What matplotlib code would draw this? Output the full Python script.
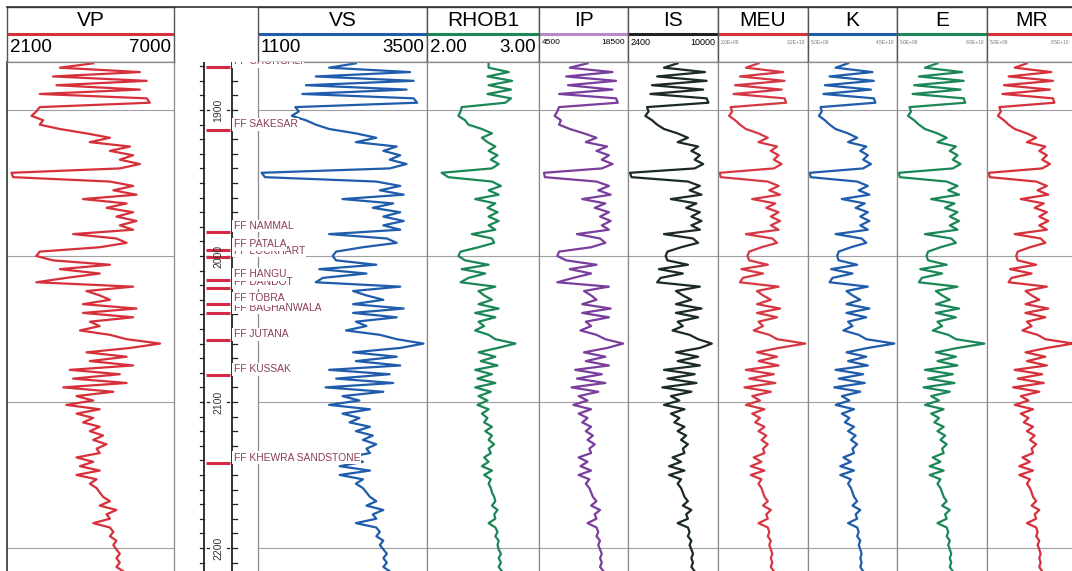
import matplotlib.pyplot as plt
import numpy as np

plt.rcParams['font.family'] = ['Liberation Sans', 'DejaVu Sans']

# log samples, metres (3 m step)
DEPTH = np.arange(1868, 2217, 3)

VP = [4630, 3650, 6000, 3450, 6200, 3550, 6000, 3060, 6200, 6290,
      3060, 2960, 2820, 3160, 3060, 3650, 4430, 5120, 4530, 5710,
      5120, 5800, 5410, 6000, 5410, 2230, 2280, 5120, 5800, 5220,
      5900, 4330, 5610, 5020, 5800, 5310, 5900, 5410, 5800, 4040,
      5310, 5610, 4820, 3060, 2960, 3450, 5120, 3650, 4820, 3840,
      2960, 5800, 4430, 4820, 5120, 4330, 5900, 4330, 5800, 4530,
      4820, 4240, 5120, 5610, 6590, 5710, 4430, 5610, 4530, 5800,
      3940, 5410, 4040, 5610, 3750, 5220, 4140, 4630, 3840, 4820,
      4140, 4630, 4330, 4820, 4530, 4920, 4630, 5020, 4730, 4820,
      4140, 4630, 4240, 4820, 4140, 4730, 4530, 4730, 4820, 4920,
      5120, 4820, 5310, 5020, 5120, 4630, 5120, 5220, 5120, 5310,
      5220, 5310, 5410, 5310, 5410, 5310, 5510]

VS = [2490, 2110, 3260, 1920, 3310, 1780, 3210, 1730, 3310, 3360,
      1630, 1680, 1580, 1780, 1920, 2110, 2490, 2780, 2490, 3070,
      2880, 3120, 2970, 3210, 2970, 1150, 1200, 2780, 3120, 2830,
      3170, 2300, 3020, 2730, 3120, 2880, 3170, 2880, 3120, 2110,
      2930, 3070, 2590, 2210, 2160, 2210, 2780, 1970, 2640, 2020,
      1920, 3120, 2450, 2640, 2880, 2450, 3170, 2450, 3070, 2490,
      2640, 2350, 2830, 3070, 3450, 3120, 2450, 3070, 2490, 3120,
      2110, 2970, 2210, 3020, 2060, 2880, 2300, 2540, 2110, 2690,
      2300, 2540, 2400, 2690, 2490, 2730, 2590, 2780, 2640, 2690,
      2350, 2590, 2260, 2690, 2260, 2590, 2490, 2590, 2640, 2690,
      2780, 2640, 2880, 2730, 2780, 2490, 2780, 2830, 2780, 2880,
      2830, 2880, 2930, 2880, 2930, 2880, 2970]

RHOB1 = [2.55, 2.55, 2.73, 2.54, 2.76, 2.55, 2.75, 2.54, 2.75, 2.70,
         2.31, 2.30, 2.28, 2.34, 2.37, 2.49, 2.58, 2.49, 2.54, 2.61,
         2.55, 2.63, 2.57, 2.64, 2.58, 2.13, 2.19, 2.58, 2.66, 2.55,
         2.64, 2.43, 2.61, 2.54, 2.63, 2.55, 2.64, 2.55, 2.61, 2.40,
         2.58, 2.60, 2.46, 2.30, 2.28, 2.34, 2.55, 2.31, 2.52, 2.37,
         2.30, 2.61, 2.46, 2.51, 2.58, 2.46, 2.64, 2.43, 2.61, 2.46,
         2.51, 2.43, 2.55, 2.61, 2.79, 2.63, 2.46, 2.61, 2.48, 2.63,
         2.43, 2.58, 2.45, 2.61, 2.43, 2.57, 2.46, 2.54, 2.45, 2.55,
         2.49, 2.54, 2.51, 2.58, 2.52, 2.58, 2.55, 2.60, 2.55, 2.57,
         2.51, 2.55, 2.49, 2.58, 2.51, 2.57, 2.55, 2.57, 2.58, 2.60,
         2.61, 2.58, 2.63, 2.60, 2.61, 2.55, 2.61, 2.63, 2.61, 2.64,
         2.63, 2.64, 2.66, 2.64, 2.66, 2.64, 2.67]

IP = [12140, 9340, 16060, 8780, 16620, 9060, 16060, 7660, 16620, 16900,
      7660, 7380, 6960, 7940, 7660, 9340, 11580, 13540, 11860, 15220,
      13540, 15500, 14380, 16060, 14380, 5280, 5420, 13540, 15500, 13820,
      15780, 11300, 14940, 13260, 15500, 14100, 15780, 14380, 15500, 10460,
      14100, 14940, 12700, 7660, 7380, 8780, 13540, 9340, 12700, 9900,
      7380, 15500, 11580, 12700, 13540, 11300, 15780, 11300, 15500, 11860,
      12700, 11020, 13540, 14940, 17740, 15220, 11580, 14940, 11860, 15500,
      10180, 14380, 10460, 14940, 9620, 13820, 10740, 12140, 9900, 12700,
      10740, 12140, 11300, 12700, 11860, 12980, 12140, 13260, 12420, 12700,
      10740, 12140, 11020, 12700, 10740, 12420, 11860, 12420, 12700, 12980,
      13540, 12700, 14100, 13260, 13540, 12140, 13540, 13820, 13540, 14100,
      13820, 14100, 14380, 14100, 14380, 14100, 14660]

IS = [6590, 5440, 8900, 4860, 9040, 4430, 8750, 4290, 9040, 9190,
      4000, 4140, 3860, 4430, 4860, 5440, 6590, 7460, 6590, 8320,
      7750, 8470, 8030, 8750, 8030, 2560, 2700, 7460, 8470, 7600,
      8610, 6020, 8180, 7310, 8470, 7750, 8610, 7750, 8470, 5440,
      7890, 8320, 6880, 5730, 5580, 5730, 7460, 5010, 7030, 5150,
      4860, 8470, 6450, 7030, 7750, 6450, 8610, 6450, 8320, 6590,
      7030, 6160, 7600, 8320, 9480, 8470, 6450, 8320, 6590, 8470,
      5440, 8030, 5730, 8180, 5300, 7750, 6020, 6740, 5440, 7170,
      6020, 6740, 6310, 7170, 6590, 7310, 6880, 7460, 7030, 7170,
      6160, 6880, 5870, 7170, 5870, 6880, 6590, 6880, 7030, 7170,
      7460, 7030, 7750, 7310, 7460, 6590, 7460, 7600, 7460, 7750,
      7600, 7750, 7890, 7750, 7890, 7750, 8030]

# moduli in GPa
MEU = [15.5, 11.3, 23.7, 9.3, 24.2, 7.7, 23.2, 7.2, 24.2, 24.7,
       6.2, 6.7, 5.7, 7.7, 9.3, 11.3, 15.5, 18.6, 15.5, 21.7,
       19.6, 22.2, 20.6, 23.2, 20.6, 2.6, 2.9, 18.6, 22.2, 19.1,
       22.7, 13.4, 21.1, 18.1, 22.2, 19.6, 22.7, 19.6, 22.2, 11.3,
       20.1, 21.7, 16.5, 12.4, 11.8, 12.4, 18.6, 9.8, 17.0, 10.3,
       9.3, 22.2, 15.0, 17.0, 19.6, 15.0, 22.7, 15.0, 21.7, 15.5,
       17.0, 13.9, 19.1, 21.7, 31.1, 22.2, 15.0, 21.7, 15.5, 22.2,
       11.3, 20.6, 12.4, 21.1, 10.8, 19.6, 13.4, 16.0, 11.3, 17.5,
       13.4, 16.0, 14.4, 17.5, 15.5, 18.1, 16.5, 18.6, 17.0, 17.5,
       13.9, 16.5, 12.9, 17.5, 12.9, 16.5, 15.5, 16.5, 17.0, 17.5,
       18.6, 17.0, 19.6, 18.1, 18.6, 15.5, 18.6, 19.1, 18.6, 19.6,
       19.1, 19.6, 20.1, 19.6, 20.1, 19.6, 20.6]

K = [23.0, 17.4, 34.0, 14.7, 34.6, 12.6, 33.3, 11.9, 34.6, 35.3,
     10.6, 11.2, 9.9, 12.6, 14.7, 17.4, 23.0, 27.1, 23.0, 31.2,
     28.5, 31.9, 29.8, 33.3, 29.8, 5.8, 6.2, 27.1, 31.9, 27.8,
     32.6, 20.2, 30.5, 26.4, 31.9, 28.5, 32.6, 28.5, 31.9, 17.4,
     29.1, 31.2, 24.3, 18.8, 18.1, 18.8, 27.1, 15.4, 25.0, 16.0,
     14.7, 31.9, 22.3, 25.0, 28.5, 22.3, 32.6, 22.3, 31.2, 23.0,
     25.0, 20.9, 27.8, 31.2, 43.8, 31.9, 22.3, 31.2, 23.0, 31.9,
     17.4, 29.8, 18.8, 30.5, 16.8, 28.5, 20.2, 23.6, 17.4, 25.7,
     20.2, 23.6, 21.6, 25.7, 23.0, 26.4, 24.3, 27.1, 25.0, 25.7,
     20.9, 24.3, 19.5, 25.7, 19.5, 24.3, 23.0, 24.3, 25.0, 25.7,
     27.1, 25.0, 28.5, 26.4, 27.1, 23.0, 27.1, 27.8, 27.1, 28.5,
     27.8, 28.5, 29.1, 28.5, 29.1, 28.5, 29.8]

E = [38.7, 28.3, 59.3, 23.2, 60.6, 19.3, 58.0, 18.0, 60.6, 61.9,
     15.4, 16.7, 14.2, 19.3, 23.2, 28.3, 38.7, 46.4, 38.7, 54.1,
     49.0, 55.4, 51.5, 58.0, 51.5, 6.5, 7.3, 46.4, 55.4, 47.7,
     56.7, 33.5, 52.9, 45.1, 55.4, 49.0, 56.7, 49.0, 55.4, 28.3,
     50.2, 54.1, 41.2, 30.9, 29.6, 30.9, 46.4, 24.4, 42.6, 25.7,
     23.2, 55.4, 37.4, 42.6, 49.0, 37.4, 56.7, 37.4, 54.1, 38.7,
     42.6, 34.8, 47.7, 54.1, 77.8, 55.4, 37.4, 54.1, 38.7, 55.4,
     28.3, 51.5, 30.9, 52.9, 27.1, 49.0, 33.5, 40.0, 28.3, 43.9,
     33.5, 40.0, 36.1, 43.9, 38.7, 45.1, 41.2, 46.4, 42.6, 43.9,
     34.8, 41.2, 32.2, 43.9, 32.2, 41.2, 38.7, 41.2, 42.6, 43.9,
     46.4, 42.6, 49.0, 45.1, 46.4, 38.7, 46.4, 47.7, 46.4, 49.0,
     47.7, 49.0, 50.2, 49.0, 50.2, 49.0, 51.5]

MR = [40.9, 29.9, 62.9, 24.4, 64.3, 20.2, 61.6, 18.8, 64.3, 65.6,
      16.1, 17.5, 14.8, 20.2, 24.4, 29.9, 40.9, 49.2, 40.9, 57.4,
      52.0, 58.8, 54.6, 61.6, 54.6, 6.6, 7.4, 49.2, 58.8, 50.5,
      60.1, 35.4, 56.0, 47.8, 58.8, 52.0, 60.1, 52.0, 58.8, 29.9,
      53.2, 57.4, 43.6, 32.6, 31.2, 32.6, 49.2, 25.7, 45.1, 27.1,
      24.4, 58.8, 39.6, 45.1, 52.0, 39.6, 60.1, 39.6, 57.4, 40.9,
      45.1, 36.8, 50.5, 57.4, 82.6, 58.8, 39.6, 57.4, 40.9, 58.8,
      29.9, 54.6, 32.6, 56.0, 28.5, 52.0, 35.4, 42.3, 29.9, 46.4,
      35.4, 42.3, 38.1, 46.4, 40.9, 47.8, 43.6, 49.2, 45.1, 46.4,
      36.8, 43.6, 34.0, 46.4, 34.0, 43.6, 40.9, 43.6, 45.1, 46.4,
      49.2, 45.1, 52.0, 47.8, 49.2, 40.9, 49.2, 50.5, 49.2, 52.0,
      50.5, 52.0, 53.2, 52.0, 53.2, 52.0, 54.6]

FORMATIONS = ['CHORGALI', 'SAKESAR', 'NAMMAL', 'PATALA', 'LOCKHART', 'HANGU',
              'DANDOT', 'TOBRA', 'BAGHANWALA', 'JUTANA', 'KUSSAK', 'KHEWRA SANDSTONE']
FORMATION_TOPS = [1870.5, 1913.7, 1983.3, 1995.9, 2000.4, 2016.4,
                  2021.9, 2032.9, 2039.3, 2057.5, 2081.5, 2142.0]

DEPTH_LABELS = [1900, 2000, 2100, 2200]

# name, values, scale min/max, scale text, colour
CURVES = [
    ('VP', VP, 2100, 7000, ('2100', '7000'), '#d6303b'),
    ('VS', VS, 1100, 3500, ('1100', '3500'), '#1f5cab'),
    ('RHOB1', RHOB1, 2.0, 3.0, ('2.00', '3.00'), '#1b8757'),
    ('IP', IP, 4500, 18500, ('4500', '18500'), '#7a3e9d'),
    ('IS', IS, 2400, 10000, ('2400', '10000'), '#1b2a25'),
    ('MEU', MEU, 2, 32, ('2.0E+09', '3.2E+10'), '#d63843'),
    ('K', K, 5, 45, ('5.0E+09', '4.5E+10'), '#1f5cab'),
    ('E', E, 5, 80, ('5.0E+09', '8.0E+10'), '#1b8757'),
    ('MR', MR, 5, 85, ('5.0E+09', '8.5E+10'), '#d6303b'),
]
# pixel columns of each track and size of its scale text
TRACK_X = [(7, 174), (258, 427), (427, 539), (539, 628), (628, 718),
           (718, 808), (808, 897), (897, 987), (987, 1076)]
SCALE_SIZE = [13.5, 13.5, 13.5, 6, 6.5, 3.5, 3.5, 3.5, 3.5]
HEAD_LINE = ['#d6303b', '#1f5cab', '#1b8757', '#b58ac8', '#222222',
             '#d6303b', '#1f5cab', '#1b8757', '#d6303b']

W, H = 1072, 571
HEAD_TOP, LOG_TOP = 7, 62
D_TOP, D_BOT = 1867.1, 2215.8

fig = plt.figure(figsize=(W / 100, H / 100), dpi=100)
fig.patch.set_facecolor('white')


def px_axes(x0, y0, x1, y1, **kw):
    return fig.add_axes([x0 / W, 1 - y1 / H, (x1 - x0) / W, (y1 - y0) / H], **kw)


for i, (name, vals, lo, hi, scale, col) in enumerate(CURVES):
    x0, x1 = TRACK_X[i]

    # header box
    hx = px_axes(x0, HEAD_TOP, x1, LOG_TOP)
    hx.set_xlim(x0, x1)
    hx.set_ylim(LOG_TOP - HEAD_TOP, 0)
    hx.set_xticks([])
    hx.set_yticks([])
    for s in hx.spines.values():
        s.set_color('#555555')
        s.set_linewidth(1.0)
    hx.text((x0 + x1) / 2, 13.5, name, ha='center', va='center', fontsize=15)
    hx.plot([x0, x1], [27, 27], color=HEAD_LINE[i], lw=2.2, solid_capstyle='butt')
    sz = SCALE_SIZE[i]
    sy = 41 if sz > 10 else 35.5
    sc = 'black' if sz > 5 else '#777777'
    right = min(x1, W) - 3
    hx.text(x0 + 3, sy, scale[0], ha='left', va='center', fontsize=sz, color=sc)
    hx.text(right, sy, scale[1], ha='right', va='center', fontsize=sz, color=sc)

    # log track
    ax = px_axes(x0, LOG_TOP, x1, H)
    ax.plot(vals, DEPTH, color=col, lw=1.6)
    ax.set_xlim(lo, hi)
    ax.set_ylim(D_BOT, D_TOP)
    ax.set_xticks([])
    ax.set_yticks([])
    for d in DEPTH_LABELS:
        ax.axhline(d, color='#a0a0a0', lw=0.8, zorder=0)
    for side, s in ax.spines.items():
        s.set_color('#8a8a8a')
        s.set_linewidth(0.9)
    ax.spines['bottom'].set_visible(False)
    if i == 0:
        ax.spines['left'].set_color('#333333')
        ax.spines['left'].set_linewidth(1.2)

# top frame line across the whole header
fig.add_artist(plt.Line2D([7 / W, 1], [1 - HEAD_TOP / H] * 2, color='#333333', lw=1.2))

# depth ruler
dax = px_axes(174, LOG_TOP, 258, H)
dax.set_xlim(174, 258)
dax.set_ylim(D_BOT, D_TOP)
dax.axis('off')
dax.plot([204, 204], [D_TOP, D_BOT], color='#222222', lw=1.3)
dax.plot([232, 232], [D_TOP, D_BOT], color='#222222', lw=1.3)
for d in range(1870, 2216, 10):
    dax.plot([199.5, 204], [d, d], color='#222222', lw=0.9)
    dax.plot([232, 236.5], [d, d], color='#222222', lw=0.9)
for d in DEPTH_LABELS:
    dax.plot([207, 209], [d, d], color='#222222', lw=0.9)
    dax.plot([227, 229], [d, d], color='#222222', lw=0.9)
    dax.text(218, d, str(d), rotation=90, ha='center', va='center', fontsize=7.5,
             color='#333333')
for d in FORMATION_TOPS:
    dax.plot([206, 230], [d, d], color='#d42a48', lw=2.2, solid_capstyle='butt')

# formation names, deepest first so shallower boxes sit on top
lax = px_axes(174, LOG_TOP, 440, H, zorder=10)
lax.set_xlim(174, 440)
lax.set_ylim(D_BOT, D_TOP)
lax.axis('off')
lax.patch.set_alpha(0)
for name, d in reversed(list(zip(FORMATIONS, FORMATION_TOPS))):
    lax.text(233.5, d - 3.8, 'FF ' + name, ha='left', va='center', fontsize=7.4,
             color='#8a3f52', clip_on=True,
             bbox=dict(boxstyle='square,pad=0.12', fc='white', ec='none'))

fig.savefig('out.png', dpi=100)
